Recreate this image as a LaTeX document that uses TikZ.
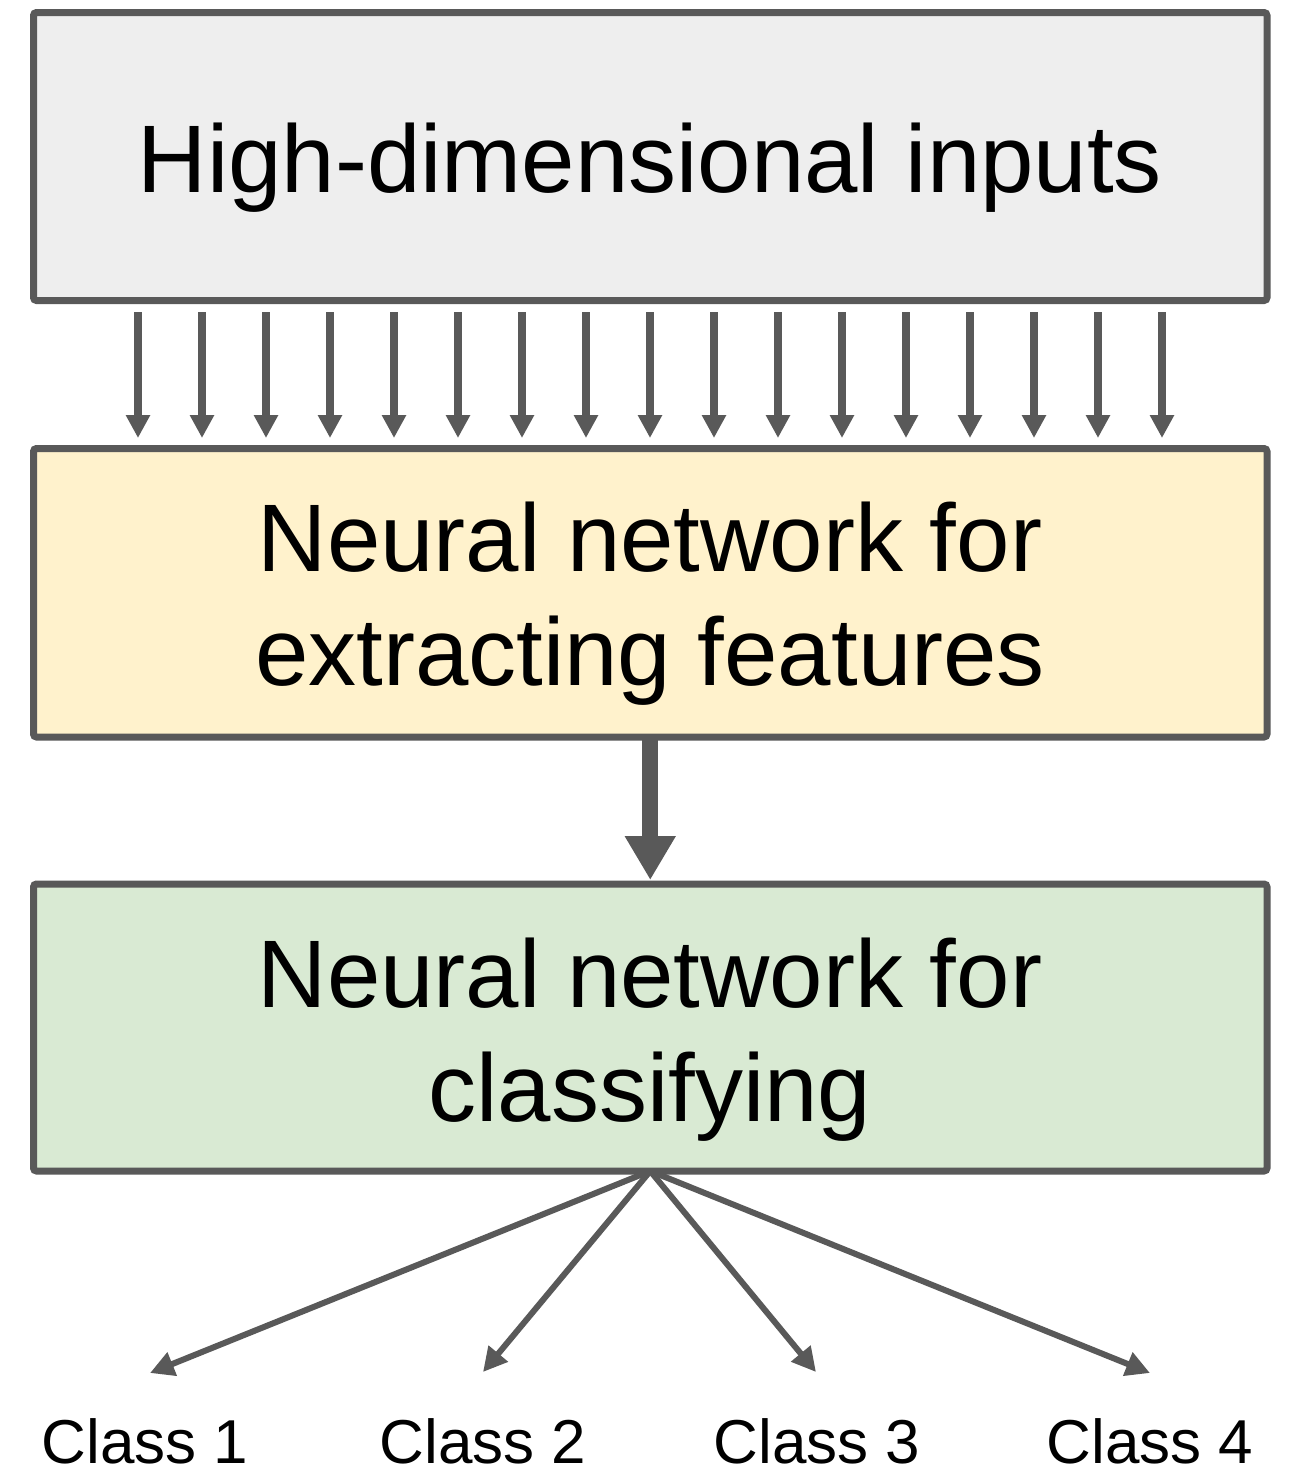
\documentclass[tikz,border=0pt]{standalone}
\usepackage{fontspec}
\setmainfont{Liberation Sans}
\usetikzlibrary{arrows.meta,calc}
\definecolor{edgegray}{HTML}{595959}
\definecolor{greyfill}{HTML}{EEEEEE}
\definecolor{yellowfill}{HTML}{FFF2CC}
\definecolor{greenfill}{HTML}{D9EAD3}
\begin{document}
\begin{tikzpicture}[x=0.5pt,y=-0.5pt,
  box/.style={draw=edgegray,line width=3.5pt,rounded corners=1.5pt,minimum width=616.75pt,inner sep=0pt,outer sep=0pt},
  bigtext/.style={font=\fontsize{48}{57}\selectfont,align=center,inner sep=0pt},
  classtext/.style={font=\fontsize{31}{37}\selectfont,inner sep=0pt},
  inarrow/.style={draw=edgegray,line width=4pt,-{Triangle[length=11.5pt,width=11.5pt]},shorten <=5.75pt,shorten >=5.25pt},
  mainarrow/.style={draw=edgegray,line width=8pt,-{Triangle[length=22pt,width=24pt]},shorten >=2pt},
  fanarrow/.style={draw=edgegray,line width=3pt,-{Triangle[length=12pt,width=12pt]}}
]
\useasboundingbox (0,0) rectangle (1291,1468);
\fill[white] (0,0) rectangle (1291,1468);

\node[box,fill=greyfill,minimum height=144pt] (box1) at (650.25,156.5) {};
\node[box,fill=yellowfill,minimum height=144.25pt] (box2) at (650.25,592.75) {};
\node[box,fill=greenfill,minimum height=143.5pt] (box3) at (650.25,1027.5) {};

\node[bigtext,anchor=base] (t1) at (650,192) {High-dimensional inputs};
\node[bigtext] (t2) at (650,603.5) {Neural network for\\extracting features};
\node[bigtext] (t3) at (650,1039.5) {Neural network for\\classifying};

\foreach \i in {0,...,16}{
  \pgfmathsetmacro\xx{138+64*\i}
  \coordinate (a\i) at (\xx,0);
  \draw[inarrow] (a\i |- box1.south) -- (a\i |- box2.north);
}

\draw[mainarrow] (box2.south) -- (box3.north);

\coordinate (c1) at (150,1373);
\coordinate (c2) at (483,1372);
\coordinate (c3) at (816,1372);
\coordinate (c4) at (1150,1373);
\foreach \k in {1,...,4}{
  \draw[fanarrow] (box3.south) -- (c\k);
}

\node[classtext,anchor=base] (l1) at (145,1463) {Class 1};
\node[classtext,anchor=base] (l2) at (483,1463) {Class 2};
\node[classtext,anchor=base] (l3) at (817,1463) {Class 3};
\node[classtext,anchor=base] (l4) at (1150,1463) {Class 4};
\end{tikzpicture}
\end{document}
